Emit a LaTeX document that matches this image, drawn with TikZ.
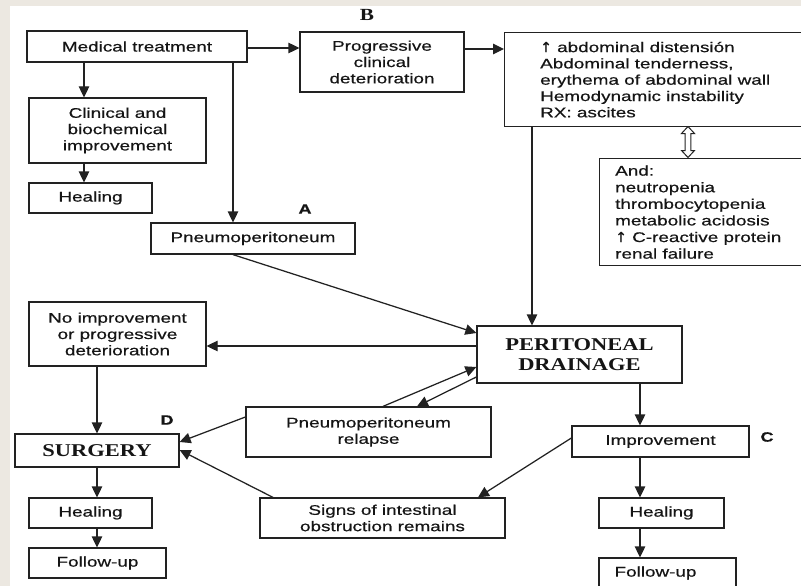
\documentclass[tikz,border=0pt]{standalone}
\usepackage{fontspec}
\setmainfont[FakeStretch=1.35,FakeBold=0.5]{Liberation Sans}
\newfontfamily\serifb[FakeStretch=1.25]{Liberation Serif}
\newfontfamily\arrowfont[FakeBold=0.3]{DejaVu Sans}
\usetikzlibrary{arrows.meta}
\definecolor{bgbeige}{HTML}{ECE8E1}
\definecolor{ink}{HTML}{222222}
\definecolor{txt}{HTML}{151515}
\newcommand{\upar}{{\arrowfont ↑}}
\begin{document}
\begin{tikzpicture}[x=1pt,y=-1pt,
  box/.style={draw=ink, line width=1.25pt, fill=white, text=txt, inner sep=0pt, align=center,
              font=\fontsize{14}{16.3}\selectfont},
  bigbox/.style={box, font=\serifb\bfseries\fontsize{18}{19.5}\selectfont},
  txtnode/.style={text=txt, inner sep=0pt, align=left, font=\fontsize{14}{16.3}\selectfont},
  arr/.style={draw=ink, line width=1.25pt, -{Triangle[length=11pt,width=10.5pt]}},
  ln/.style={draw=ink, line width=1.25pt},
  lab/.style={text=txt, inner sep=0pt, font=\bfseries\fontsize{13.5}{13.5}\selectfont},
]
\useasboundingbox (0,0) rectangle (801,586);
\fill[bgbeige] (0,0) rectangle (801,586);
\fill[white] (10,6) rectangle (801,586);

% boxes
\node[box, minimum width=220pt, minimum height=31pt] (mt) at (137,46.5) {Medical treatment};
\node[box, minimum width=177pt, minimum height=65pt] (clin) at (117.5,130.5) {Clinical and\\biochemical\\improvement};
\node[box, minimum width=123pt, minimum height=30pt] (heal1) at (90.5,198) {Healing};
\node[box, minimum width=164pt, minimum height=60pt] (pcd) at (382,62) {Progressive\\clinical\\deterioration};
\node[box, anchor=north west, minimum width=322pt, minimum height=94pt] (abd) at (504,32) {};
\node[txtnode, anchor=west] (abdtxt) at ([xshift=36pt]abd.west)
  {\upar\ abdominal distensión\\Abdominal tenderness,\\erythema of abdominal wall\\Hemodynamic instability\\RX: ascites};
\node[box, anchor=north west, minimum width=222pt, minimum height=107pt] (andb) at (599,158) {};
\node[txtnode, anchor=west, font=\fontsize{14}{16.6}\selectfont] (andtxt) at ([xshift=16pt]andb.west)
  {And:\\neutropenia\\thrombocytopenia\\metabolic acidosis\\\upar\ C-reactive protein\\renal failure};
\node[box, minimum width=204pt, minimum height=31pt] (pneumo) at (253,238.5) {Pneumoperitoneum};
\node[box, minimum width=177pt, minimum height=64pt] (noimp) at (117.5,334) {No improvement\\or progressive\\deterioration};
\node[bigbox, minimum width=205pt, minimum height=57pt] (pd) at (579.5,354.5) {PERITONEAL\\DRAINAGE};
\node[box, minimum width=245pt, minimum height=50pt] (relapse) at (368.5,432) {Pneumoperitoneum\\relapse};
\node[bigbox, minimum width=164pt, minimum height=33pt] (surgery) at (97,450.5) {SURGERY};
\node[box, minimum width=177pt, minimum height=31pt] (improv) at (660.5,441.5) {Improvement};
\node[box, minimum width=245pt, minimum height=40pt] (signs) at (382.5,518) {Signs of intestinal\\obstruction remains};
\node[box, minimum width=123pt, minimum height=30pt] (heal2) at (90.5,513) {Healing};
\node[box, minimum width=137pt, minimum height=30pt] (fu1) at (97.5,563) {Follow-up};
\node[box, minimum width=125pt, minimum height=30pt] (heal3) at (661.5,513) {Healing};
\node[box, minimum width=137pt, minimum height=30pt] (fu2) at (667.5,573) {};
\node[txtnode, anchor=west] (fu2txt) at ([xshift=16pt]fu2.west) {Follow-up};

% letter labels
\node[lab, font=\serifb\bfseries\fontsize{17}{17}\selectfont] (labB) at (367,15) {B};
\node[lab] (labA) at (305,209) {A};
\node[lab] (labD) at (167,420) {D};
\node[lab] (labC) at (767,437) {C};

% helper coordinates
\coordinate (x84) at (84,0);
\coordinate (x233) at (233,0);
\coordinate (x532) at (532,0);
\coordinate (x97) at (97,0);
\coordinate (x640) at (640,0);
\coordinate (x383) at (383,0);
\coordinate (x417) at (417,0);
\coordinate (x273) at (273,0);
\coordinate (x478) at (478,0);
\coordinate (y48) at (0,48);
\coordinate (y49) at (0,49);
\coordinate (y333) at (0,333);
\coordinate (y346) at (0,346);
\coordinate (y367) at (0,367);
\coordinate (y377) at (0,377);
\coordinate (y417) at (0,417);
\coordinate (y442) at (0,442);
\coordinate (y450) at (0,450);
\coordinate (y438) at (0,438);

% connectors
\draw[arr] (mt.south -| x84) -- (clin.north -| x84);
\draw[arr] (clin.south -| x84) -- (heal1.north -| x84);
\draw[arr] (mt.south -| x233) -- (pneumo.north -| x233);
\draw[arr] (mt.east |- y48) -- (pcd.west |- y48);
\draw[arr] (pcd.east |- y49) -- (abd.west |- y49);
\draw[arr] (abd.south -| x532) -- (pd.north -| x532);
\draw[arr] (pneumo.south -| x233) -- (pd.west |- y333);
\draw[arr] (pd.west |- y346) -- (noimp.east |- y346);
\draw[arr] (relapse.north -| x383) -- (pd.west |- y367);
\draw[arr] (pd.west |- y377) -- (relapse.north -| x417);
\draw[arr] (noimp.south -| x97) -- (surgery.north -| x97);
\draw[arr] (relapse.west |- y417) -- (surgery.east |- y442);
\draw[arr] (signs.north -| x273) -- (surgery.east |- y450);
\draw[arr] (pd.south -| x640) -- (improv.north -| x640);
\draw[arr] (improv.west |- y438) -- (signs.north -| x478);
\draw[arr] (surgery.south -| x97) -- (heal2.north -| x97);
\draw[arr] (heal2.south -| x97) -- (fu1.north -| x97);
\draw[arr] (improv.south -| x640) -- (heal3.north -| x640);
\draw[arr] (heal3.south -| x640) -- (fu2.north -| x640);

% hollow double arrow between abd and andb
\draw[ln, line width=1pt, fill=white]
  (688,126.5) -- (694.5,133.5) -- (690.8,133.5) -- (690.8,150.5) -- (694.5,150.5) -- (688,157.5)
  -- (681.5,150.5) -- (685.2,150.5) -- (685.2,133.5) -- (681.5,133.5) -- cycle;
\end{tikzpicture}
\end{document}
